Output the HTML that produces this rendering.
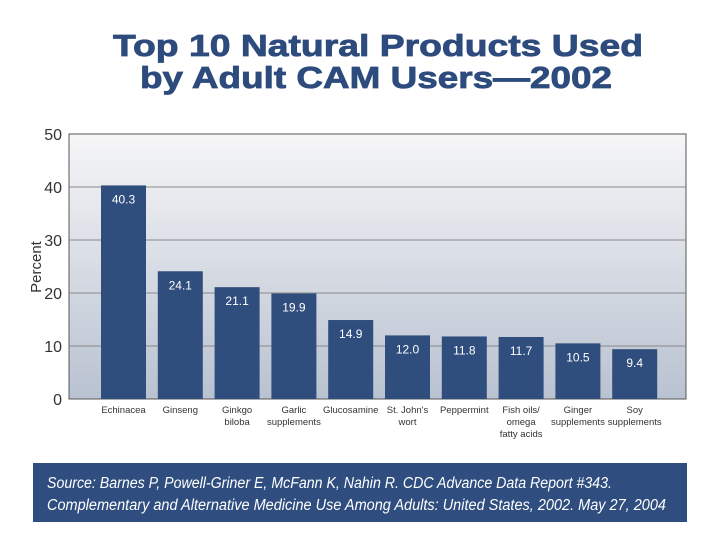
<!DOCTYPE html>
<html><head><meta charset="utf-8"><style>
body{margin:0;background:#fff;width:720px;height:540px;overflow:hidden;font-family:"Liberation Sans",sans-serif;}
</style></head><body>
<svg width="720" height="540" xmlns="http://www.w3.org/2000/svg">
<defs><linearGradient id="bg" x1="0" y1="0" x2="0" y2="1"><stop offset="0" stop-color="#f6f6f7"/><stop offset="1" stop-color="#b9c2d1"/></linearGradient></defs>
<text x="113" y="56" textLength="530" lengthAdjust="spacingAndGlyphs" font-size="31" font-weight="bold" fill="#2d4b7d" stroke="#2d4b7d" stroke-width="0.8" font-family="Liberation Sans, sans-serif">Top 10 Natural Products Used</text>
<text x="140" y="88" textLength="472" lengthAdjust="spacingAndGlyphs" font-size="31" font-weight="bold" fill="#2d4b7d" stroke="#2d4b7d" stroke-width="0.8" font-family="Liberation Sans, sans-serif">by Adult CAM Users—2002</text>
<rect x="69" y="134" width="617" height="265" fill="url(#bg)" stroke="#555" stroke-width="1"/>
<g id="grid"></g><g id="bars"></g><g id="labels"></g>
<text transform="translate(41,267) rotate(-90)" text-anchor="middle" font-size="15" fill="#333">Percent</text>
<rect x="33" y="463" width="654" height="59" fill="#2f4e7f"/>
<text x="47" y="488" textLength="565" lengthAdjust="spacingAndGlyphs" font-size="15.5" font-style="italic" fill="#fff">Source: Barnes P, Powell-Griner E, McFann K, Nahin R. CDC Advance Data Report #343.</text>
<text x="47" y="510" textLength="619" lengthAdjust="spacingAndGlyphs" font-size="15.5" font-style="italic" fill="#fff">Complementary and Alternative Medicine Use Among Adults: United States, 2002. May 27, 2004</text>
</svg>
<script>
const categories=[["Echinacea"],["Ginseng"],["Ginkgo","biloba"],["Garlic","supplements"],["Glucosamine"],["St. John's","wort"],["Peppermint"],["Fish oils/","omega","fatty acids"],["Ginger","supplements"],["Soy","supplements"]];
const values=[40.3,24.1,21.1,19.9,14.9,12.0,11.8,11.7,10.5,9.4];
const ticks=[0,10,20,30,40,50];
const NS="http://www.w3.org/2000/svg";
const y0=399,y1=134,xL=69,xR=686;
const yS=v=>y0-(v/50)*(y0-y1);
const xS=i=>101+i*56.8;
const bw=45;
function mk(t,a,p){const e=document.createElementNS(NS,t);for(const k in a)e.setAttribute(k,a[k]);p.appendChild(e);return e;}
const g=document.getElementById('grid'),b=document.getElementById('bars'),l=document.getElementById('labels');
ticks.forEach(t=>{
 if(t>0&&t<50){const ln=mk('line',{x1:xL,x2:xR,y1:yS(t),y2:yS(t),stroke:'#888','stroke-width':1},g);
 
 }
 const tx=mk('text',{x:62,y:yS(t)+6,'text-anchor':'end','font-size':16,fill:'#333'},l);
 tx.textContent=t;
 
 
});
values.forEach((v,i)=>{
 const r=mk('rect',{x:xS(i),y:yS(v),width:bw,height:y0-yS(v),fill:'#2f4d7d'},b);
 
 
 const vt=mk('text',{x:xS(i)+bw/2,y:yS(v)+18,'text-anchor':'middle','font-size':12,fill:'#fff'},l);
 vt.textContent=v.toFixed(1);
 
 
 categories[i].forEach((s,j)=>{
  const ct=mk('text',{x:xS(i)+bw/2,y:413+j*12,'text-anchor':'middle','font-size':9.5,fill:'#333'},l);
  ct.textContent=s;
  
  
 });
});
</script>
</body></html>
